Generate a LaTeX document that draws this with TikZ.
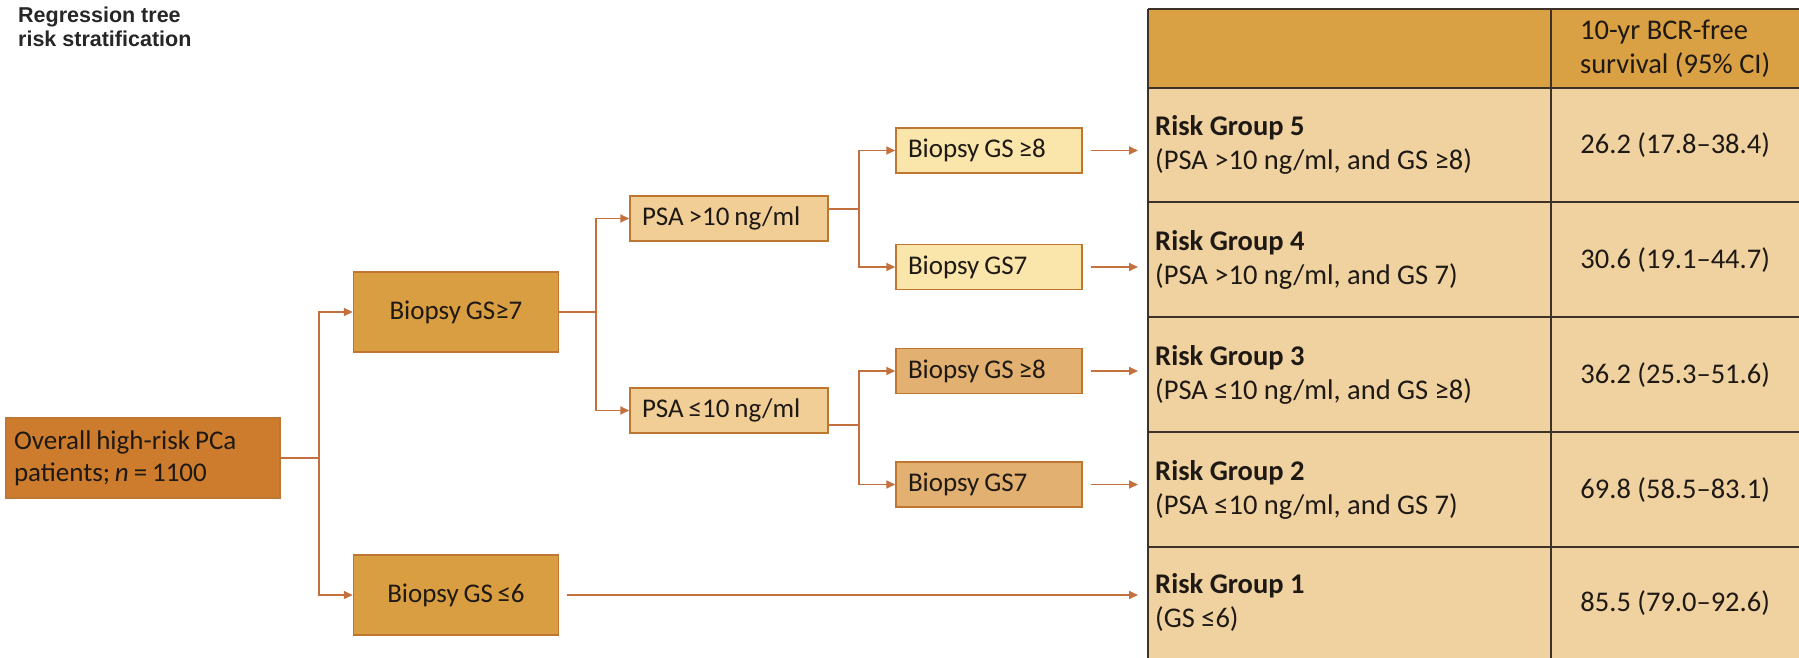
\documentclass[tikz,border=0pt]{standalone}
\usepackage{fontspec}
\setmainfont{Carlito}[WordSpace=0.8]
\newfontfamily\tablefont{Carlito}
\newfontfamily\titlefont{Liberation Sans}
\usetikzlibrary{calc}
\usetikzlibrary{arrows.meta}

\definecolor{rootfill}{RGB}{204,124,44}
\definecolor{gsfill}{RGB}{218,158,66}
\definecolor{psafill}{RGB}{240,206,150}
\definecolor{hifill}{RGB}{250,229,170}
\definecolor{lofill}{RGB}{226,176,112}
\definecolor{headfill}{RGB}{218,160,68}
\definecolor{rowfill}{RGB}{240,210,160}
\definecolor{boxline}{RGB}{190,118,48}
\definecolor{linkcol}{RGB}{196,112,62}
\definecolor{gridcol}{RGB}{60,50,40}
\definecolor{textcol}{RGB}{30,25,20}

\newcommand{\boxfont}{\fontsize{27}{32}\selectfont}
\newcommand{\cellfont}{\tablefont\fontsize{28.5}{34}\selectfont}

\tikzset{
  box/.style={draw=boxline, line width=1.5pt, inner xsep=12pt, inner ysep=2pt,
              font=\boxfont, text=textcol},
  lbox/.style={box, align=flush left, text width=#1},
  link/.style={draw=linkcol, line width=1.8pt},
  arr/.style={link, -{Triangle[length=9pt,width=8pt]}},
  cell/.style={anchor=north west, inner ysep=0pt, font=\cellfont, text=textcol},
  grid line/.style={draw=gridcol, line width=1.6pt}
}

\begin{document}
\begin{tikzpicture}[x=1pt, y=-1pt]
\useasboundingbox (0,0) rectangle (1799,658);

% ---------------- Title ----------------
\node[anchor=north west, inner sep=0pt, align=flush left,
      font=\titlefont\bfseries\fontsize{21.5}{24}\selectfont, text=black!85] (title) at (18,7)
    {Regression tree\\risk stratification};

% ---------------- Tree Boxes ----------------
\node[lbox=258pt, fill=rootfill, minimum height=80pt, inner xsep=8pt, inner ysep=6pt] (root) at (143,458)
    {Overall high-risk PCa\\patients; \textit{n} = 1100};

\node[box, fill=gsfill, minimum width=205pt, minimum height=80pt] (gs7) at (456,312) {Biopsy GS≥7};
\node[box, fill=gsfill, minimum width=205pt, minimum height=80pt] (gs6) at (456,595) {Biopsy GS\,≤6};

\node[lbox=174pt, fill=psafill, minimum height=45pt] (psahi) at (729,218.5) {PSA >10 ng/ml};
\node[lbox=174pt, fill=psafill, minimum height=45pt] (psalo) at (729,410.5) {PSA ≤10 ng/ml};

\node[lbox=162pt, fill=hifill, minimum height=45pt] (hi8) at (989,150.5) {Biopsy GS ≥8};
\node[lbox=162pt, fill=hifill, minimum height=45pt] (hi7) at (989,267)   {Biopsy GS7};
\node[lbox=162pt, fill=lofill, minimum height=45pt] (lo8) at (989,371)   {Biopsy GS ≥8};
\node[lbox=162pt, fill=lofill, minimum height=45pt] (lo7) at (989,484.5) {Biopsy GS7};

% ---------------- Table ----------------
\node[cell, fill=headfill, minimum width=403pt, minimum height=79pt] (h1) at (1148,9) {};
\node[cell, fill=headfill, minimum width=248pt, minimum height=79pt, align=flush left] (h2) at (1551,9)
    {10-yr BCR-free\\survival (95\% CI)};

\node[cell, fill=rowfill, minimum width=403pt, minimum height=114pt, inner xsep=7pt, text width=389pt, align=flush left] (r5) at (1148,88)
    {\textbf{Risk Group 5}\\(PSA >10 ng/ml, and GS ≥8)};
\node[cell, fill=rowfill, minimum width=248pt, minimum height=114pt] (v5) at (1551,88) {26.2 (17.8–38.4)};

\node[cell, fill=rowfill, minimum width=403pt, minimum height=115pt, inner xsep=7pt, text width=389pt, align=flush left] (r4) at (1148,202)
    {\textbf{Risk Group 4}\\(PSA >10 ng/ml, and GS 7)};
\node[cell, fill=rowfill, minimum width=248pt, minimum height=115pt] (v4) at (1551,202) {30.6 (19.1–44.7)};

\node[cell, fill=rowfill, minimum width=403pt, minimum height=115pt, inner xsep=7pt, text width=389pt, align=flush left] (r3) at (1148,317)
    {\textbf{Risk Group 3}\\(PSA ≤10 ng/ml, and GS ≥8)};
\node[cell, fill=rowfill, minimum width=248pt, minimum height=115pt] (v3) at (1551,317) {36.2 (25.3–51.6)};

\node[cell, fill=rowfill, minimum width=403pt, minimum height=115pt, inner xsep=7pt, text width=389pt, align=flush left] (r2) at (1148,432)
    {\textbf{Risk Group 2}\\(PSA ≤10 ng/ml, and GS 7)};
\node[cell, fill=rowfill, minimum width=248pt, minimum height=115pt] (v2) at (1551,432) {69.8 (58.5–83.1)};

\node[cell, fill=rowfill, minimum width=403pt, minimum height=111pt, inner xsep=7pt, text width=389pt, align=flush left] (r1) at (1148,547)
    {\textbf{Risk Group 1}\\(GS ≤6)};
\node[cell, fill=rowfill, minimum width=248pt, minimum height=111pt] (v1) at (1551,547) {85.5 (79.0–92.6)};

% grid of the table
\draw[grid line] (h1.north west) -- (h2.north east);
\draw[grid line] (r5.north west) -- (v5.north east);
\draw[grid line] (r4.north west) -- (v4.north east);
\draw[grid line] (r3.north west) -- (v3.north east);
\draw[grid line] (r2.north west) -- (v2.north east);
\draw[grid line] (r1.north west) -- (v1.north east);
\draw[grid line] (h1.north west) -- (r1.south west);
\draw[grid line] (h2.north west) -- (v1.south west);

% ---------------- Connectors ----------------
\coordinate (j1) at (319,458);
\draw[link] (root.east) -- (j1);
\draw[arr] (j1) |- (gs7.west);
\draw[arr] (j1) |- (gs6.west);

\coordinate (j2) at (596,312);
\draw[link] (gs7.east) -- (j2);
\draw[arr] (j2) |- (psahi.west);
\draw[arr] (j2) |- (psalo.west);

\coordinate (j3) at (859,209);
\draw[link] (psahi.east |- j3) -- (j3);
\draw[arr] (j3) |- (hi8.west);
\draw[arr] (j3) |- (hi7.west);

\coordinate (j4) at (859,425);
\draw[link] (psalo.east |- j4) -- (j4);
\draw[arr] (j4) |- (lo8.west);
\draw[arr] (j4) |- (lo7.west);

% into the table
\draw[arr] ([xshift=8pt]hi8.east) -- ($(r5.west |- hi8.east)+(-10,0)$);
\draw[arr] ([xshift=8pt]hi7.east) -- ($(r4.west |- hi7.east)+(-10,0)$);
\draw[arr] ([xshift=8pt]lo8.east) -- ($(r3.west |- lo8.east)+(-10,0)$);
\draw[arr] ([xshift=8pt]lo7.east) -- ($(r2.west |- lo7.east)+(-10,0)$);
\draw[arr] ([xshift=8pt]gs6.east) -- ($(r1.west |- gs6.east)+(-10,0)$);

\end{tikzpicture}
\end{document}
